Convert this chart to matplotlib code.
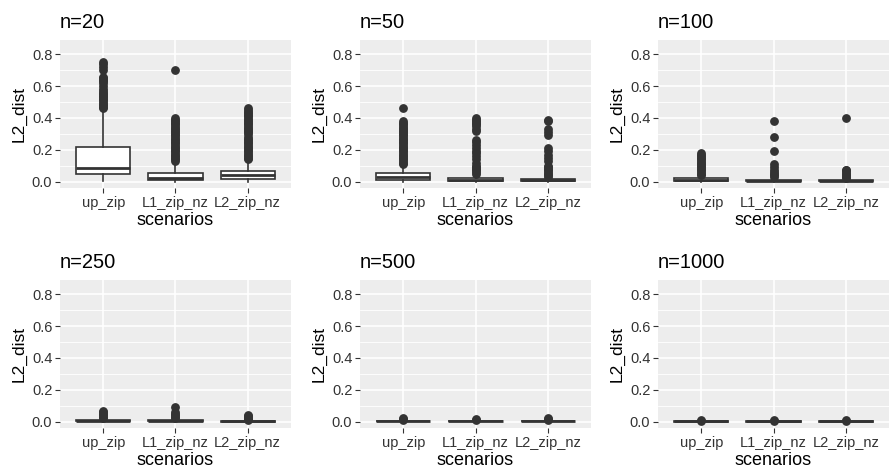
import matplotlib
matplotlib.use('Agg')
from matplotlib import pyplot as plt
import numpy as np

plt.rcParams['font.family'] = ['Liberation Sans', 'DejaVu Sans']

scenarios = ['up_zip', 'L1_zip_nz', 'L2_zip_nz']
sizes = [20, 50, 100, 250, 500, 1000]

# box stats per panel, one value per scenario
q1 = [[0.048, 0.010, 0.015], [0.012, 0.005, 0.003], [0.005, 0.003, 0.001],
      [0.002, 0.003, 0.000], [0.001, 0.001, 0.001], [0.000, 0.000, 0.000]]
med = [[0.084, 0.025, 0.040], [0.030, 0.012, 0.008], [0.012, 0.007, 0.004],
       [0.006, 0.007, 0.003], [0.003, 0.003, 0.003], [0.002, 0.002, 0.001]]
q3 = [[0.215, 0.057, 0.065], [0.057, 0.020, 0.015], [0.020, 0.012, 0.008],
      [0.010, 0.012, 0.006], [0.005, 0.005, 0.005], [0.003, 0.003, 0.002]]
whislo = [[0.004, 0.000, 0.000], [0.000, 0.000, 0.000], [0.000, 0.000, 0.000],
          [0.000, 0.000, 0.000], [0.000, 0.000, 0.000], [0.000, 0.000, 0.000]]
whishi = [[0.45, 0.12, 0.13], [0.10, 0.04, 0.03], [0.035, 0.025, 0.018],
          [0.018, 0.02, 0.01], [0.009, 0.009, 0.009], [0.005, 0.005, 0.004]]

outliers = [
    [[0.46, 0.47, 0.48, 0.49, 0.50, 0.51, 0.52, 0.53, 0.54, 0.55, 0.56, 0.57,
      0.58, 0.60, 0.62, 0.63, 0.64, 0.65, 0.66, 0.70, 0.72, 0.74, 0.75],
     [0.13, 0.14, 0.15, 0.16, 0.17, 0.18, 0.19, 0.20, 0.21, 0.22, 0.23, 0.24,
      0.25, 0.26, 0.27, 0.28, 0.29, 0.30, 0.31, 0.32, 0.33, 0.34, 0.35, 0.36,
      0.37, 0.38, 0.39, 0.40, 0.70],
     [0.14, 0.15, 0.16, 0.17, 0.18, 0.19, 0.20, 0.21, 0.22, 0.23, 0.24, 0.25,
      0.26, 0.27, 0.28, 0.30, 0.31, 0.32, 0.33, 0.34, 0.35, 0.36, 0.37, 0.38,
      0.39, 0.40, 0.41, 0.42, 0.43, 0.44, 0.45, 0.46]],
    [[0.11, 0.12, 0.13, 0.14, 0.15, 0.16, 0.17, 0.18, 0.19, 0.20, 0.21, 0.22,
      0.23, 0.24, 0.25, 0.26, 0.27, 0.28, 0.29, 0.30, 0.31, 0.32, 0.33, 0.34,
      0.35, 0.36, 0.37, 0.38, 0.46],
     [0.05, 0.06, 0.07, 0.08, 0.09, 0.10, 0.12, 0.14, 0.16, 0.18, 0.19, 0.21,
      0.23, 0.25, 0.26, 0.32, 0.33, 0.35, 0.36, 0.37, 0.38, 0.39, 0.40],
     [0.03, 0.04, 0.05, 0.06, 0.07, 0.08, 0.09, 0.10, 0.13, 0.15, 0.17, 0.19,
      0.21, 0.29, 0.31, 0.33, 0.38, 0.39]],
    [[0.04, 0.05, 0.06, 0.07, 0.08, 0.09, 0.10, 0.11, 0.12, 0.13, 0.14, 0.15,
      0.16, 0.17, 0.18],
     [0.03, 0.04, 0.05, 0.06, 0.07, 0.09, 0.11, 0.19, 0.28, 0.38],
     [0.02, 0.03, 0.04, 0.05, 0.06, 0.07, 0.075, 0.40]],
    [[0.02, 0.03, 0.04, 0.05, 0.06, 0.065],
     [0.025, 0.03, 0.04, 0.05, 0.06, 0.09],
     [0.012, 0.02, 0.025, 0.03, 0.035, 0.04]],
    [[0.01, 0.015, 0.02], [0.01, 0.015], [0.01, 0.015, 0.02]],
    [[0.007, 0.01], [0.007, 0.01], [0.006, 0.008]],
]

fig = plt.figure(figsize=(8.89, 4.73), dpi=100)

lefts = [60, 360, 658]
tops = [40, 280]
pw, ph = 231, 148

for k, n in enumerate(sizes):
    row, col = divmod(k, 3)
    left = lefts[col] / 889
    bottom = 1 - (tops[row] + ph) / 473
    ax = fig.add_axes([left, bottom, pw / 889, ph / 473])
    ax.set_facecolor('#EDEDED')

    stats = []
    for j in range(3):
        stats.append({'med': med[k][j], 'q1': q1[k][j], 'q3': q3[k][j],
                      'whislo': whislo[k][j], 'whishi': whishi[k][j],
                      'fliers': outliers[k][j]})
    ax.bxp(stats, positions=[1, 2, 3], widths=0.75, patch_artist=True,
           boxprops=dict(facecolor='white', edgecolor='#333333', linewidth=1.2),
           medianprops=dict(color='#333333', linewidth=2.0),
           whiskerprops=dict(color='#333333', linewidth=1.2),
           capprops=dict(linewidth=0),
           flierprops=dict(marker='o', markerfacecolor='#333333',
                           markeredgecolor='#333333', markersize=5.3),
           zorder=3)

    ax.set_xlim(0.4, 3.6)
    ax.set_ylim(-0.04, 0.89)
    ax.set_yticks([0.0, 0.2, 0.4, 0.6, 0.8])
    ax.set_yticklabels(['0.0', '0.2', '0.4', '0.6', '0.8'])
    ax.set_yticks([0.1, 0.3, 0.5, 0.7], minor=True)
    ax.set_xticks([1, 2, 3])
    ax.set_xticklabels(scenarios)
    ax.grid(which='major', color='white', linewidth=1.2, zorder=0)
    ax.grid(which='minor', axis='y', color='white', linewidth=0.6, zorder=0)
    ax.set_axisbelow(True)
    for s in ax.spines.values():
        s.set_visible(False)
    ax.tick_params(which='major', length=3.5, width=0.8, color='#333333',
                   labelsize=10.5, labelcolor='#333333', pad=2)
    ax.tick_params(which='minor', length=0)
    ax.set_xlabel('scenarios', fontsize=13, labelpad=2)
    ax.set_ylabel('L2_dist', fontsize=12.5, labelpad=4)
    ax.set_title('n=%d' % n, loc='left', fontsize=14.5, pad=9)

plt.savefig('out.png', dpi=100)
